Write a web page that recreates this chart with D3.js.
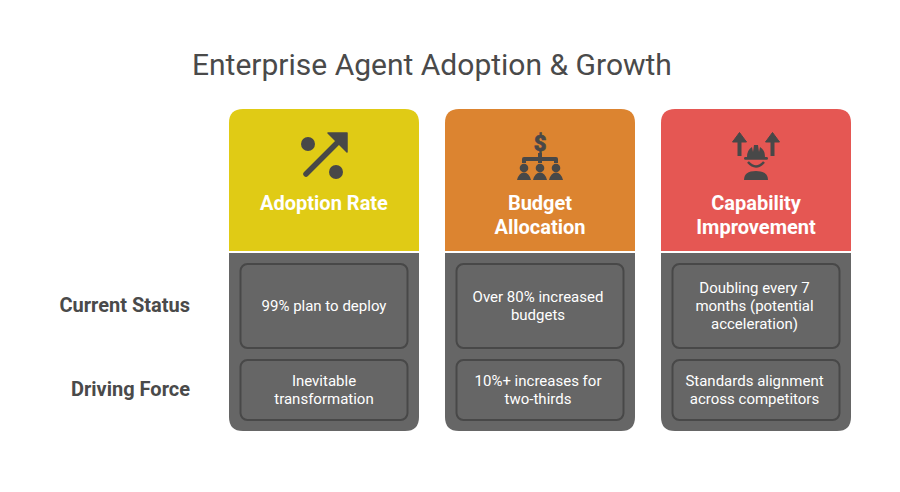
<!DOCTYPE html>
<html>
<head>
<meta charset="utf-8">
<script src="https://cdn.jsdelivr.net/npm/d3@7"></script>
<style>
html,body{margin:0;padding:0;background:#fff;}
svg{display:block;}
text{font-family:Roboto,sans-serif;}
</style>
</head>
<body>
<svg id="chart" width="900" height="492"></svg>
<script>
const chartTitle = "Enterprise Agent Adoption & Growth";
const categories = [["Adoption Rate"], ["Budget", "Allocation"], ["Capability", "Improvement"]];
const categoryKeys = ["adoption", "budget", "capability"];
const categoryColors = ["#e0cb15", "#dc8430", "#e55753"];
const rowLabels = ["Current Status", "Driving Force"];
const currentStatus = [["99% plan to deploy"], ["Over 80% increased", "budgets"], ["Doubling every 7", "months (potential", "acceleration)"]];
const drivingForce = [["Inevitable", "transformation"], ["10%+ increases for", "two-thirds"], ["Standards alignment", "across competitors"]];

const svg = d3.select("#chart");
const dark = "#484848", gray = "#666666", inner = "#484848";
const bodyTextShift = [0, -2, -1.5];

const x = d3.scaleBand().domain(categoryKeys).range([229, 851]).paddingInner(26 / 216).paddingOuter(0);
const headerTop = 109, headerBottom = 251, bodyTop = 253, bodyBottom = 431, r = 14;

const rowY = d3.scaleOrdinal().domain(rowLabels).range([264, 360]);
const rowH = d3.scaleOrdinal().domain(rowLabels).range([84, 60]);

svg.append("text").attr("x", 192).attr("y", 75).attr("font-size", 30).attr("fill", "#4a4a4a").text(chartTitle);

function topRound(x0, y0, w, h, r) {
  return `M${x0},${y0 + h}V${y0 + r}Q${x0},${y0} ${x0 + r},${y0}H${x0 + w - r}Q${x0 + w},${y0} ${x0 + w},${y0 + r}V${y0 + h}Z`;
}
function bottomRound(x0, y0, w, h, r) {
  return `M${x0},${y0}H${x0 + w}V${y0 + h - r}Q${x0 + w},${y0 + h} ${x0 + w - r},${y0 + h}H${x0 + r}Q${x0},${y0 + h} ${x0},${y0 + h - r}Z`;
}

function multiline(g, lines, cx, cy, size, weight, fill, lh) {
  const t = g.append("text").attr("text-anchor", "middle").attr("font-size", size)
    .attr("font-weight", weight).attr("fill", fill);
  lines.forEach((l, i) => {
    t.append("tspan").attr("x", cx)
      .attr("y", cy + (i - (lines.length - 1) / 2) * lh + size * 0.35).text(l);
  });
}

const icons = {
  adoption(g) {
    g.append("circle").attr("cx", -16).attr("cy", -12).attr("r", 7).attr("fill", dark);
    g.append("circle").attr("cx", 12).attr("cy", 16).attr("r", 7).attr("fill", dark);
    g.append("path").attr("d", "M-18,18L14,-14").attr("stroke", dark).attr("stroke-width", 5.5).attr("stroke-linecap", "round").attr("fill", "none");
    g.append("path").attr("d", "M4,-23H23V-4Z").attr("fill", dark).attr("stroke", dark).attr("stroke-width", 1.5).attr("stroke-linejoin", "round");
  },
  budget(g) {
    g.append("text").attr("x", 0).attr("y", -5).attr("text-anchor", "middle").attr("font-size", 22).attr("font-weight", 900)
      .attr("fill", dark).attr("stroke", dark).attr("stroke-width", 0.6).text("$");
    g.append("path").attr("d", "M-16,7V3H16V7M0,-3V7").attr("stroke", dark).attr("stroke-width", 4).attr("stroke-linejoin", "round").attr("fill", "none");
    [-16, 0, 16].forEach(dx => {
      g.append("circle").attr("cx", dx).attr("cy", 12).attr("r", 4.3).attr("fill", dark);
      g.append("path").attr("d", `M${dx - 7},24Q${dx - 5},16.5 ${dx},16.5Q${dx + 5},16.5 ${dx + 7},24Z`).attr("fill", dark);
    });
  },
  capability(g) {
    [-16.5, 16.5].forEach(dx => {
      g.append("path").attr("d", `M${dx},0V-16`).attr("stroke", dark).attr("stroke-width", 4).attr("fill", "none");
      g.append("path").attr("d", `M${dx - 7},-14L${dx},-23.5L${dx + 7},-14Z`).attr("fill", dark).attr("stroke", dark).attr("stroke-linejoin", "round");
    });
    g.append("path").attr("d", "M-9,1Q-9,-6 -4,-9L-3,-4L-2,-11H2L3,-4L4,-9Q9,-6 9,1Z").attr("fill", dark);
    g.append("rect").attr("x", -12).attr("y", 1).attr("width", 24).attr("height", 2.8).attr("rx", 1.4).attr("fill", dark);
    g.append("path").attr("d", "M-8,6Q0,15 8,6").attr("stroke", dark).attr("stroke-width", 2.5).attr("fill", "none");
    g.append("path").attr("d", "M-12,24Q-12,15 0,15Q12,15 12,24Z").attr("fill", dark);
  }
};

const cols = svg.selectAll("g.col").data(categoryKeys).join("g").attr("class", "col");
cols.each(function (key, i) {
  const g = d3.select(this), x0 = x(key), w = x.bandwidth(), cx = x0 + w / 2;
  g.append("path").attr("d", topRound(x0, headerTop, w, headerBottom - headerTop, r)).attr("fill", categoryColors[i]);
  g.append("path").attr("d", bottomRound(x0, bodyTop, w, bodyBottom - bodyTop, r)).attr("fill", gray);
  const ic = g.append("g").attr("transform", `translate(${cx},${156})`);
  icons[key](ic);
  const titleCy = categories[i].length === 1 ? 203 : 215;
  multiline(g, categories[i], cx, titleCy, 20, 700, "#ffffff", 24);
  [currentStatus, drivingForce].forEach((rows, j) => {
    const label = rowLabels[j], y0 = rowY(label), h = rowH(label);
    g.append("rect").attr("x", x0 + 11.5).attr("y", y0).attr("width", w - 23).attr("height", h).attr("rx", 7)
      .attr("fill", gray).attr("stroke", inner).attr("stroke-width", 2);
    multiline(g, rows[i], cx + bodyTextShift[i], y0 + h / 2 - 0.7, 15, 400, "#ffffff", 18);
  });
});

rowLabels.forEach(l => {
  svg.append("text").attr("x", 190).attr("y", rowY(l) + rowH(l) / 2 + 5.5)
    .attr("text-anchor", "end").attr("font-size", 20).attr("font-weight", 700).attr("fill", "#4a4a4a").text(l);
});
</script>
</body>
</html>
